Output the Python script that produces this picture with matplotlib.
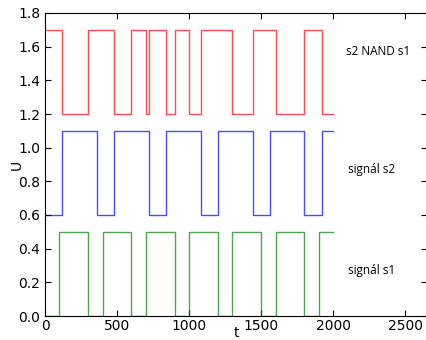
import matplotlib
matplotlib.use("Agg")
import matplotlib.pyplot as plt

# signal s1 (green)
t_s1 = [0, 100, 300, 400, 600, 700, 900, 1000, 1200, 1300, 1500, 1600, 1800, 1900, 2000]
u_s1 = [0, 0.5, 0, 0.5, 0, 0.5, 0, 0.5, 0, 0.5, 0, 0.5, 0, 0.5, 0.5]

# signal s2 (blue)
t_s2 = [0, 120, 360, 480, 720, 840, 1080, 1200, 1440, 1560, 1800, 1920, 2000]
u_s2 = [0.6, 1.1, 0.6, 1.1, 0.6, 1.1, 0.6, 1.1, 0.6, 1.1, 0.6, 1.1, 1.1]

# s2 NAND s1 (red)
t_nand = [0, 120, 300, 480, 600, 700, 720, 840, 900, 1000, 1080, 1300, 1440, 1600, 1800, 1920, 2000]
u_nand = [1.7, 1.2, 1.7, 1.2, 1.7, 1.2, 1.7, 1.2, 1.7, 1.2, 1.7, 1.2, 1.7, 1.2, 1.7, 1.2, 1.2]

labels = ["s2 NAND s1", "signál s2", "signál s1"]
label_x = [2090, 2100, 2100]
label_y = [1.55, 0.85, 0.25]

fig = plt.figure(figsize=(4.26, 3.40), dpi=100)
ax = fig.add_axes([45/426, 1-316/340, 382/426, 303/340])

ax.plot(t_nand, u_nand, drawstyle="steps-post", color="r", alpha=0.7, lw=1)
ax.plot(t_s2, u_s2, drawstyle="steps-post", color="b", alpha=0.7, lw=1)
ax.plot(t_s1, u_s1, drawstyle="steps-post", color="g", alpha=0.7, lw=1)

for s, x, y in zip(labels, label_x, label_y):
    ax.text(x, y, s, family="Open Sans", fontsize=8.5, va="baseline", ha="left")

ax.set_xlim(0, 2650)
ax.set_ylim(0, 1.8)
ax.set_xticks([0, 500, 1000, 1500, 2000, 2500])
ax.set_yticks([0.0, 0.2, 0.4, 0.6, 0.8, 1.0, 1.2, 1.4, 1.6, 1.8])
ax.tick_params(direction="in", top=True, right=True, labelsize=10, length=4)
ax.tick_params(axis="x", pad=2)
ax.set_xlabel("t", fontsize=10)
ax.set_ylabel("U", fontsize=10)
ax.xaxis.set_label_coords(0.5, -(326 - 316) / 303)
ax.yaxis.set_label_coords((24 - 45) / 382, 0.5)

fig.savefig("out.png", dpi=100)
